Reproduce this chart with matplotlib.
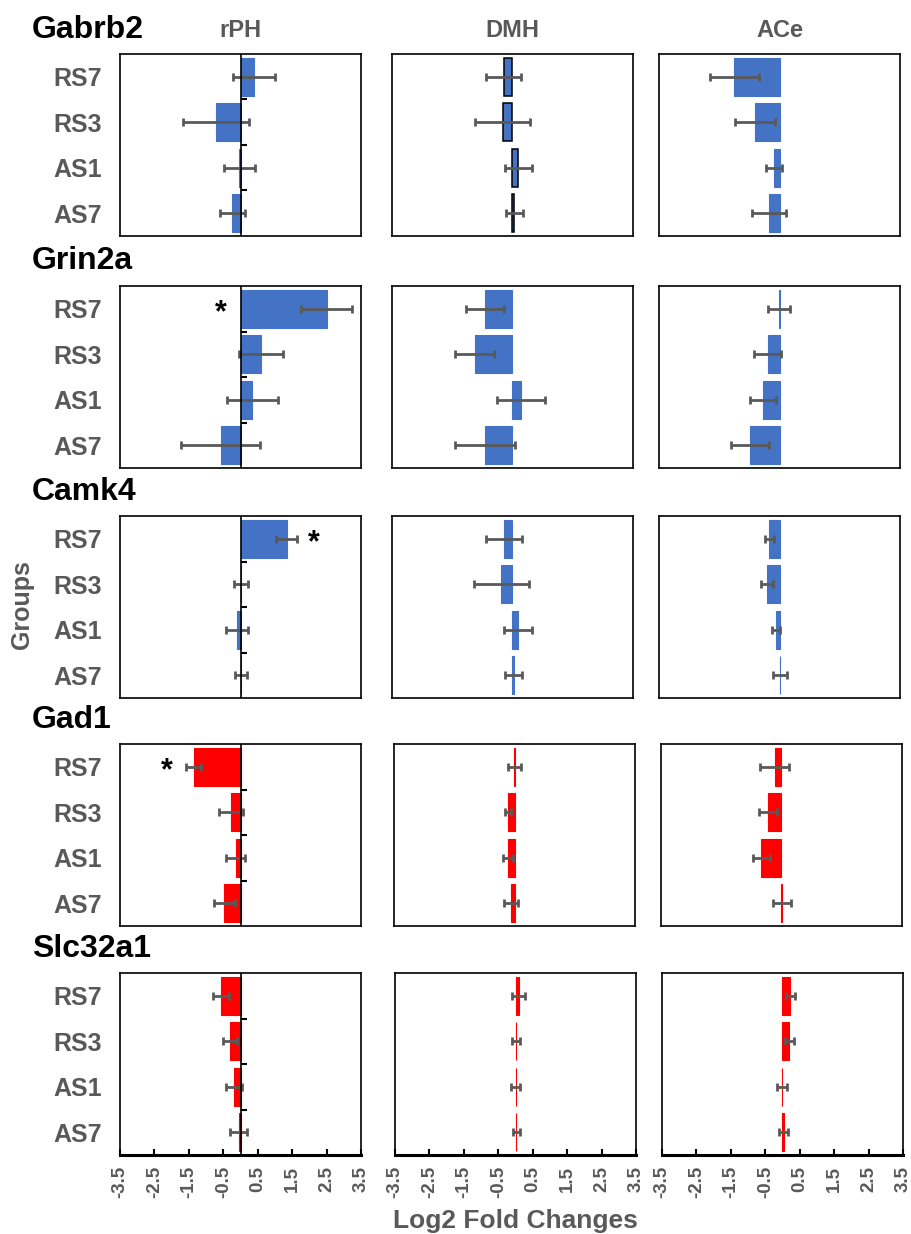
import numpy as np
import matplotlib
matplotlib.use('Agg')
import matplotlib.pyplot as plt

plt.rcParams['font.family'] = ['Liberation Sans', 'DejaVu Sans']
plt.rcParams['font.weight'] = 'bold'

groups = ['RS7', 'RS3', 'AS1', 'AS7']
regions = ['rPH', 'DMH', 'ACe']
genes = ['Gabrb2', 'Grin2a', 'Camk4', 'Gad1', 'Slc32a1']

# log2 fold change per region (rPH, DMH, ACe), groups in order RS7, RS3, AS1, AS7
gabrb2_mean = [[0.39, -0.71, -0.03, -0.24], [-0.26, -0.29, 0.17, 0.05], [-1.31, -0.71, -0.15, -0.31]]
gabrb2_err = [[0.60, 0.95, 0.44, 0.36], [0.52, 0.80, 0.40, 0.25], [0.71, 0.58, 0.23, 0.50]]
grin2a_mean = [[2.51, 0.59, 0.34, -0.58], [-0.80, -1.10, 0.24, -0.80], [-0.02, -0.34, -0.49, -0.86]]
grin2a_err = [[0.74, 0.63, 0.74, 1.16], [0.56, 0.57, 0.69, 0.86], [0.32, 0.39, 0.38, 0.56]]
camk4_mean = [[1.34, 0.01, -0.10, 0.02], [-0.24, -0.32, 0.15, 0.03], [-0.30, -0.36, -0.10, 0.01]]
camk4_err = [[0.30, 0.20, 0.32, 0.18], [0.53, 0.80, 0.41, 0.25], [0.13, 0.17, 0.12, 0.20]]
gad1_mean = [[-1.36, -0.27, -0.14, -0.47], [-0.01, -0.19, -0.19, -0.10], [-0.20, -0.39, -0.59, 0.01]]
gad1_err = [[0.21, 0.35, 0.27, 0.30], [0.19, 0.08, 0.14, 0.20], [0.43, 0.27, 0.25, 0.27]]
slc32a1_mean = [[-0.56, -0.30, -0.19, -0.05], [0.09, 0.02, 0.01, 0.02], [0.23, 0.20, -0.01, 0.03]]
slc32a1_err = [[0.24, 0.20, 0.23, 0.25], [0.20, 0.12, 0.13, 0.10], [0.14, 0.14, 0.14, 0.12]]

means = [gabrb2_mean, grin2a_mean, camk4_mean, gad1_mean, slc32a1_mean]
errs = [gabrb2_err, grin2a_err, camk4_err, gad1_err, slc32a1_err]
gene_colors = ['#4472C4', '#4472C4', '#4472C4', '#FF0000', '#FF0000']

# significant groups: (gene, region, group)
stars = [('Grin2a', 'rPH', 'RS7'), ('Camk4', 'rPH', 'RS7'), ('Gad1', 'rPH', 'RS7')]
star_x = {'Grin2a': -0.57, 'Camk4': 2.14, 'Gad1': -2.14}

ticks = np.arange(-3.5, 3.6, 1.0)
gray = '#595959'

W, H = 912, 1234
fig = plt.figure(figsize=(W / 100, H / 100), dpi=100)

col_left = [120, 392, 659]
col_shift = [0, 0, 0, 2, 3]   # lower panels sit a touch further right
col_w = 241
row_top = [54, 286, 516, 744, 973]
row_h = 182
title_base = [38, 269, 500, 728, 957]

y = np.arange(len(groups))

for r, gene in enumerate(genes):
    fig.text(32 / W, 1 - title_base[r] / H, gene, fontsize=23, color='black',
             ha='left', va='baseline')
    for c, region in enumerate(regions):
        left = col_left[c] + (col_shift[r] if c > 0 else 0)
        ax = fig.add_axes([left / W, 1 - (row_top[r] + row_h) / H,
                           col_w / W, row_h / H])
        vals = means[r][c]
        ee = errs[r][c]
        col = gene_colors[r]
        if gene == 'Gabrb2' and region == 'DMH':
            ax.barh(y, vals, height=0.84, color=col, edgecolor='black', linewidth=1.1)
        else:
            ax.barh(y, vals, height=0.84, color=col, edgecolor=col, linewidth=0.8)
        ax.errorbar(vals, y, xerr=ee, fmt='none', ecolor=gray, elinewidth=2,
                    capsize=2.8, capthick=2, zorder=3)
        ax.set_xlim(-3.5, 3.5)
        ax.set_ylim(3.5, -0.5)
        for s in ax.spines.values():
            s.set_linewidth(1.2)
            s.set_color('black')

        if c == 0:
            ax.axvline(0, color='black', linewidth=1.2, zorder=4)
            sec = ax.secondary_yaxis(0.5)
            sec.set_yticks([0.5, 1.5, 2.5])
            sec.tick_params(length=4, width=1.5, color='black',
                            labelleft=False, labelright=False)
            sec.spines['right'].set_visible(False)
            sec.spines['left'].set_visible(False)
            ax.set_yticks(y)
            ax.set_yticklabels(groups, fontsize=18, color=gray)
            ax.tick_params(axis='y', length=0, pad=13)
        else:
            ax.set_yticks([])

        if r == len(genes) - 1:
            ax.set_xticks(ticks)
            ax.set_xticklabels([f'{t:.1f}' for t in ticks], rotation=90,
                               fontsize=13.5, color=gray)
            ax.tick_params(axis='x', direction='in', length=4.5, width=1.5, pad=8)
            ax.spines['bottom'].set_linewidth(2.2)
        else:
            ax.set_xticks([])

        if r == 0:
            fig.text((left + col_w / 2) / W, 1 - 37 / H, region, fontsize=17,
                     color=gray, ha='center', va='baseline')

        for g, reg, grp in stars:
            if g == gene and reg == region:
                ax.text(star_x[g], groups.index(grp) + 0.1, '*', fontsize=22,
                        color='black', ha='center', va='center')

fig.text(515 / W, 1 - 1228 / H, 'Log2 Fold Changes', fontsize=19, color=gray,
         ha='center', va='baseline')
fig.text(22 / W, 1 - 605 / H, 'Groups', fontsize=18, color=gray,
         rotation=90, ha='center', va='center')

fig.savefig('out.png', dpi=100)
